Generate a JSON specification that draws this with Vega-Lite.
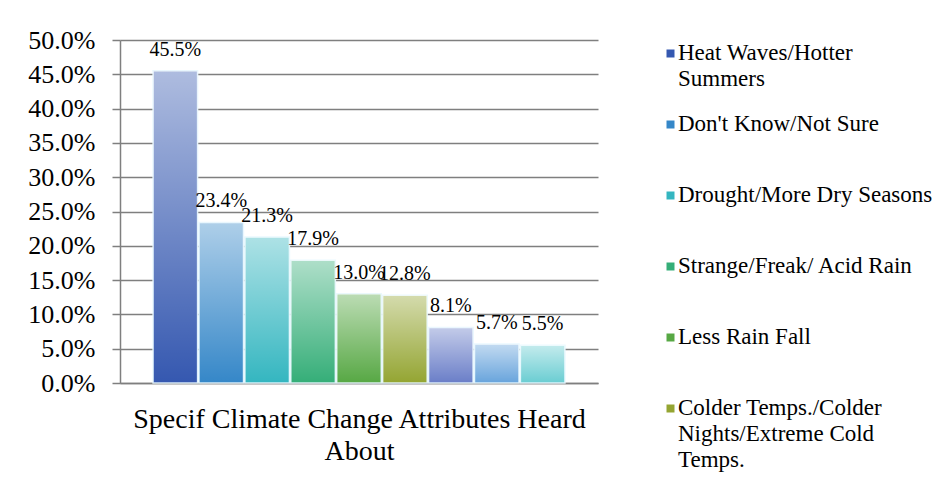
{
  "$schema": "https://vega.github.io/schema/vega-lite/v6.json",
  "width": 478,
  "height": 343,
  "autosize": {"type": "none"},
  "padding": {"left": 120, "top": 40, "right": 348, "bottom": 98},
  "background": "white",
  "data": {
    "values": [
      {"attr": "Heat Waves/Hotter Summers", "pct": 0.455},
      {"attr": "Don't Know/Not Sure", "pct": 0.234},
      {"attr": "Drought/More Dry Seasons", "pct": 0.213},
      {"attr": "Strange/Freak/ Acid Rain", "pct": 0.179},
      {"attr": "Less Rain Fall", "pct": 0.130},
      {"attr": "Colder Temps./Colder Nights/Extreme Cold Temps.", "pct": 0.128},
      {"attr": "Series 7", "pct": 0.081},
      {"attr": "Series 8", "pct": 0.057},
      {"attr": "Series 9", "pct": 0.055}
    ]
  },
  "encoding": {
    "x": {
      "field": "attr",
      "type": "nominal",
      "sort": null,
      "scale": {"paddingInner": 0.03, "paddingOuter": 0.72},
      "axis": {
        "labels": false,
        "ticks": false,
        "domain": true,
        "domainColor": "#7f7f7f",
        "domainWidth": 1.5,
        "title": ["Specif Climate Change Attributes Heard", "About"],
        "titleFont": "Liberation Serif",
        "titleFontSize": 28,
        "titleFontWeight": "normal",
        "titleColor": "#000000",
        "titlePadding": 22
      }
    },
    "y": {
      "field": "pct",
      "type": "quantitative",
      "scale": {"domain": [0, 0.5], "nice": false},
      "axis": {
        "values": [0, 0.05, 0.1, 0.15, 0.2, 0.25, 0.3, 0.35, 0.4, 0.45, 0.5],
        "format": ".1%",
        "title": null,
        "grid": true,
        "gridColor": "#7f7f7f",
        "gridWidth": 1.5,
        "tickColor": "#7f7f7f",
        "tickWidth": 1.5,
        "tickSize": 8,
        "domainColor": "#7f7f7f",
        "domainWidth": 1.5,
        "labelFont": "Liberation Serif",
        "labelFontSize": 26,
        "labelColor": "#000000",
        "labelPadding": 17,
        "labelOffset": 12
      }
    }
  },
  "layer": [
    {
      "mark": {"type": "bar", "stroke": "#e8f8ff", "strokeWidth": 1.5, "strokeOpacity": 0.9, "opacity": 1},
      "encoding": {
        "color": {
          "field": "attr",
          "type": "nominal",
          "sort": null,
          "scale": {
            "domain": [
              "Heat Waves/Hotter Summers",
              "Don't Know/Not Sure",
              "Drought/More Dry Seasons",
              "Strange/Freak/ Acid Rain",
              "Less Rain Fall",
              "Colder Temps./Colder Nights/Extreme Cold Temps.",
              "Series 7",
              "Series 8",
              "Series 9"
            ],
            "range": ["#3558b0", "#3587c8", "#34b6c0", "#35ae78", "#57a844", "#94a532", "#6a7ec8", "#68a4dc", "#6acdd2"]
          },
          "legend": {
            "values": [
              "Heat Waves/Hotter Summers",
              "Don't Know/Not Sure",
              "Drought/More Dry Seasons",
              "Strange/Freak/ Acid Rain",
              "Less Rain Fall",
              "Colder Temps./Colder Nights/Extreme Cold Temps."
            ],
            "title": null,
            "orient": "none",
            "legendX": 539,
            "legendY": 2,
            "padding": 0,
            "symbolType": "square",
            "symbolSize": 64,
            "symbolStrokeWidth": 0,
            "symbolOpacity": 1,
            "labelFont": "Liberation Serif",
            "labelFontSize": 23,
            "labelColor": "#000000",
            "labelOffset": -4,
            "labelLimit": 400,
            "labelBaseline": "top",
            "rowPadding": 21,
            "labelExpr": "datum.label == 'Heat Waves/Hotter Summers' ? ['Heat Waves/Hotter', 'Summers'] : datum.label == 'Colder Temps./Colder Nights/Extreme Cold Temps.' ? ['Colder Temps./Colder', 'Nights/Extreme Cold', 'Temps.'] : [datum.label, '']"
          }
        }
      }
    },
    {
      "mark": {
        "type": "bar",
        "strokeWidth": 0,
        "fill": {
          "gradient": "linear",
          "x1": 0, "y1": 0, "x2": 0, "y2": 1,
          "stops": [
            {"offset": 0, "color": "rgba(255,255,255,0.6)"},
            {"offset": 1, "color": "rgba(255,255,255,0)"}
          ]
        }
      },
      "encoding": {}
    },
    {
      "mark": {"type": "text", "baseline": "alphabetic", "align": "center", "dy": -15, "font": "Liberation Serif", "fontSize": 20, "color": "#000000"},
      "encoding": {
        "text": {"field": "pct", "type": "quantitative", "format": ".1%"}
      }
    }
  ],
  "config": {
    "view": {"stroke": null},
    "style": {
      "guide-label": {"lineHeight": 26, "dy": -12},
      "guide-title": {"lineHeight": 32}
    }
  }
}
